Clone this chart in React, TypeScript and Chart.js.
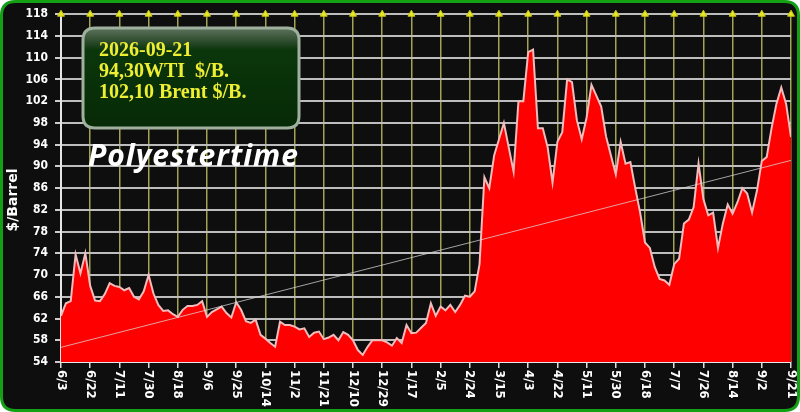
import React, { useEffect, useRef } from 'react';
import { Chart, registerables } from 'chart.js';
Chart.register(...registerables);

const tickLabels = ['6/3','6/22','7/11','7/30','8/18','9/6','9/25','10/14','11/2','11/21','12/10','12/29','1/17','2/5','2/24','3/15','4/3','4/22','5/11','5/30','6/18','7/7','7/26','8/14','9/2','9/21'];
const POINTS_PER_TICK = 6;
const Y_MIN = 54;
const Y_MAX = 118;
const Y_STEP = 4;

// price samples, 6 per tick interval (151 values)
const prices = [
  62.5, 64.8, 65.2, 73.8, 70.3, 74,
  68, 65.3, 65.2, 66.5, 68.5, 68,
  67.8, 67.2, 67.6, 66, 65.5, 67,
  70, 66.6, 64.5, 63.4, 63.5, 62.8,
  62.3, 63.6, 64.3, 64.3, 64.5, 65.2,
  62.3, 63.2, 63.7, 64.2, 63, 62.2,
  65, 63.6, 61.5, 61.2, 61.8, 59,
  58.3, 57.5, 56.8, 61.4, 60.8, 60.8,
  60.5, 60, 60.2, 58.6, 59.4, 59.6,
  58.2, 58.5, 59, 58, 59.5, 59,
  58, 56.2, 55.3, 56.8, 58, 58,
  58, 57.6, 57, 58.4, 57.5, 60.8,
  59.3, 59.4, 60.3, 61.2, 64.8, 62.5,
  64.2, 63.5, 64.5, 63.2, 64.5, 66.2,
  66, 67, 72, 88, 86, 92,
  95, 98, 93.5, 89, 102, 102,
  111, 111.5, 97, 97, 93.5, 87,
  94.5, 96.3, 106, 105.5, 98.5, 95,
  99, 105, 103, 101, 95.5, 92,
  88.5, 94.5, 90.5, 90.8, 86, 81.5,
  76, 75, 71.5, 69.3, 69, 68.2,
  72, 73, 79.5, 80.2, 82.5, 90.5,
  84, 81, 81.5, 75, 79.5, 83,
  81.3, 83.4, 86, 85, 81.5, 85.5,
  91, 91.7, 97, 101.5, 104.5, 101.5,
  95.4
];

const trendStart = 56.7;
const trendEnd = 91.1;

const infoLines = ['2026-09-21', '94,30WTI  $/B.', '102,10 Brent $/B.'];
const brandText = 'Polyestertime';
const yTitle = '$/Barrel';

function roundRect(ctx: CanvasRenderingContext2D, x: number, y: number, w: number, h: number, r: number) {
  ctx.beginPath();
  ctx.moveTo(x + r, y);
  ctx.lineTo(x + w - r, y);
  ctx.quadraticCurveTo(x + w, y, x + w, y + r);
  ctx.lineTo(x + w, y + h - r);
  ctx.quadraticCurveTo(x + w, y + h, x + w - r, y + h);
  ctx.lineTo(x + r, y + h);
  ctx.quadraticCurveTo(x, y + h, x, y + h - r);
  ctx.lineTo(x, y + r);
  ctx.quadraticCurveTo(x, y, x + r, y);
  ctx.closePath();
}

const decorPlugin = {
  id: 'decor',
  beforeDraw(chart: any) {
    const ctx = chart.ctx as CanvasRenderingContext2D;
    const W = chart.width, H = chart.height;
    ctx.save();
    ctx.fillStyle = '#ffffff';
    ctx.fillRect(0, 0, W, H);
    roundRect(ctx, 1.5, 1.5, W - 3, H - 3, 14);
    ctx.fillStyle = '#0e0e0e';
    ctx.fill();
    ctx.lineWidth = 3;
    ctx.strokeStyle = '#14a014';
    ctx.stroke();
    ctx.restore();
  },
  afterDraw(chart: any) {
    const ctx = chart.ctx as CanvasRenderingContext2D;
    const xs = chart.scales.x;
    ctx.save();
    // x tick labels rotated clockwise
    ctx.fillStyle = '#ffffff';
    ctx.font = 'bold 13px "DejaVu Sans Condensed", "DejaVu Sans", sans-serif';
    ctx.textAlign = 'left';
    ctx.textBaseline = 'middle';
    xs.ticks.forEach((t: any) => {
      const idx = Math.round(t.value / POINTS_PER_TICK);
      const label = tickLabels[idx];
      if (label === undefined) return;
      const px = xs.getPixelForValue(t.value);
      ctx.save();
      ctx.translate(px, xs.top + 8);
      ctx.rotate(Math.PI / 2);
      ctx.fillText(label, 0, 0);
      ctx.restore();
    });
    // y title
    ctx.save();
    ctx.translate(13, 200);
    ctx.rotate(-Math.PI / 2);
    ctx.textAlign = 'center';
    ctx.textBaseline = 'middle';
    ctx.font = 'bold 14px "DejaVu Sans", sans-serif';
    ctx.fillText(yTitle, 0, 0);
    ctx.restore();

    // info box
    const bx = 83, by = 28, bw = 216, bh = 100;
    roundRect(ctx, bx, by, bw, bh, 12);
    const g = ctx.createLinearGradient(0, by, 0, by + bh);
    g.addColorStop(0, '#5d735d');
    g.addColorStop(0.14, '#2b4a2b');
    g.addColorStop(0.22, '#0b360b');
    g.addColorStop(1, '#062a06');
    ctx.fillStyle = g;
    ctx.fill();
    ctx.lineWidth = 3;
    ctx.strokeStyle = '#9fb09f';
    ctx.stroke();
    ctx.fillStyle = '#eeee33';
    ctx.font = 'bold 20px "Liberation Serif", serif';
    ctx.textAlign = 'left';
    ctx.textBaseline = 'alphabetic';
    infoLines.forEach((s, i) => ctx.fillText(s, 99, 56 + i * 21));

    // brand
    ctx.fillStyle = '#ffffff';
    ctx.font = 'italic bold 30px "Open Sans", sans-serif';
    (ctx as any).letterSpacing = '1px';
    ctx.fillText(brandText, 88, 166);
    ctx.restore();
  }
};

export default function App() {
  const ref = useRef<HTMLCanvasElement>(null);
  useEffect(() => {
    if (!ref.current) return;
    const n = prices.length - 1;
    const areaData = prices.map((v, i) => ({ x: i, y: v }));
    const trendData = [{ x: 0, y: trendStart }, { x: n, y: trendEnd }];
    const markerData = tickLabels.map((_, k) => ({ x: k * POINTS_PER_TICK, y: Y_MAX }));
    const chart = new Chart(ref.current, {
      type: 'line',
      data: {
        datasets: [
          {
            data: areaData,
            borderColor: '#f2bcbc',
            borderWidth: 2,
            backgroundColor: '#ff0000',
            fill: 'start',
            pointRadius: 0,
            tension: 0,
            order: 3,
          },
          {
            data: trendData,
            borderColor: 'rgba(215,215,215,0.75)',
            borderWidth: 1,
            pointRadius: 0,
            fill: false,
            order: 2,
          },
          {
            data: markerData,
            showLine: false,
            pointStyle: 'triangle',
            pointRadius: 4,
            backgroundColor: '#e8e826',
            borderColor: '#c8c810',
            borderWidth: 1,
            clip: false,
            order: 1,
          } as any,
        ],
      },
      options: {
        animation: false,
        responsive: false,
        events: [],
        layout: { padding: { top: 13, right: 9, left: 0, bottom: 0 } },
        plugins: { legend: { display: false }, tooltip: { enabled: false } },
        scales: {
          x: {
            type: 'linear',
            min: 0,
            max: n,
            afterFit: (s: any) => { s.height = 50; s.paddingLeft = 0; s.paddingRight = 0; },
            ticks: {
              stepSize: POINTS_PER_TICK,
              autoSkip: false,
              maxRotation: 0,
              minRotation: 0,
              padding: 0,
              color: 'transparent',
              font: { size: 1 },
              callback: (v: any) => tickLabels[Math.round(Number(v) / POINTS_PER_TICK)] ?? '',
            },
            grid: { color: '#a3a352', lineWidth: 1.5, tickLength: 6, tickColor: '#dddddd' },
            border: { display: true, color: '#e6e6e6', width: 2 },
          },
          y: {
            min: Y_MIN,
            max: Y_MAX,
            afterFit: (s: any) => { s.width = 61; },
            ticks: {
              stepSize: Y_STEP,
              color: '#ffffff',
              padding: 7,
              font: { family: '"DejaVu Sans Condensed", "DejaVu Sans", sans-serif', size: 12, weight: 'bold' },
            },
            grid: { color: '#bdbdbd', lineWidth: 2, tickLength: 6, tickColor: '#cccccc' },
            border: { display: true, color: '#e6e6e6', width: 2 },
          },
        },
      },
      plugins: [decorPlugin],
    } as any);
    return () => chart.destroy();
  }, []);
  return (
    <div style={{ position: 'fixed', left: 0, top: 0, width: 800, height: 412, background: '#fff' }}>
      <canvas ref={ref} width={800} height={412} style={{ display: 'block', width: 800, height: 412 }} />
    </div>
  );
}
